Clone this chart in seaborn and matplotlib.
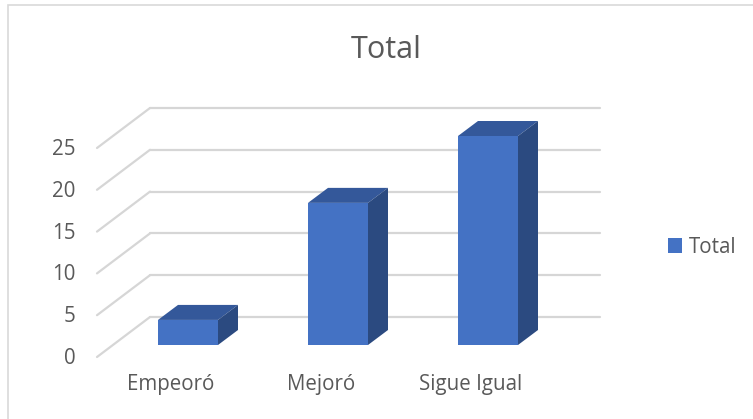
import matplotlib
matplotlib.use("Agg")
import matplotlib.pyplot as plt
import matplotlib.transforms as mtransforms
from matplotlib.patches import Patch, Polygon, Rectangle
import seaborn as sns

# data
categorias = ["Empeoró", "Mejoró", "Sigue Igual"]
valores = [3, 17, 25]
ticks_y = [0, 5, 10, 15, 20, 25]
serie = "Total"

azul = "#4472C4"
azul_top = "#34589A"
azul_lado = "#2B4A80"
gris_txt = "#595959"
gris_grid = "#d6d6d6"

sns.set_style("white")
plt.rcParams["font.family"] = ["Open Sans", "DejaVu Sans"]

fig = plt.figure(figsize=(7.53, 4.19), dpi=100)
# axes = plane of the bars' front faces
ax = fig.add_axes([113 / 753, 1 - 345 / 419, 450 / 753, 209 / 419])

sns.barplot(x=categorias, y=valores, color=azul, saturation=1, width=0.4,
            edgecolor="none", ax=ax, zorder=1)
ax.set_xlim(-0.5, 2.5)
ax.set_ylim(0, 25)

# pixel -> data units for the oblique 3d look
px_x = 150.0
px_y = 209.0 / 25
prof_dx, prof_dy = 20 / px_x, 15 / px_y        # bar depth
fondo_dx, fondo_dy = 37 / px_x, 28 / px_y      # back wall
frente_dx, frente_dy = -16 / px_x, -12 / px_y  # front edge of floor

# back wall gridlines + floor diagonals
for v in ticks_y:
    ax.plot([-0.5 + fondo_dx, 2.5 + fondo_dx], [v + fondo_dy] * 2,
            color=gris_grid, lw=1.6, zorder=0.5, clip_on=False)
    ax.plot([-0.5 + frente_dx, -0.5 + fondo_dx], [v + frente_dy, v + fondo_dy],
            color=gris_grid, lw=1.6, zorder=0.5, clip_on=False)

# top and side faces from the seaborn bars
for p in list(ax.patches):
    x0, y0 = p.get_x(), p.get_y()
    w, h = p.get_width(), p.get_height()
    x1, y1 = x0 + w, y0 + h
    top = [(x0, y1), (x1, y1), (x1 + prof_dx, y1 + prof_dy), (x0 + prof_dx, y1 + prof_dy)]
    lado = [(x1, y0), (x1 + prof_dx, y0 + prof_dy), (x1 + prof_dx, y1 + prof_dy), (x1, y1)]
    ax.add_patch(Polygon(top, closed=True, facecolor=azul_top, edgecolor="none",
                         zorder=2, clip_on=False))
    ax.add_patch(Polygon(lado, closed=True, facecolor=azul_lado, edgecolor="none",
                         zorder=2, clip_on=False))

sns.despine(ax=ax, left=True, bottom=True)
ax.set_xlabel("")
ax.set_ylabel("")
ax.set_yticks(ticks_y)
ax.set_yticklabels([str(t) for t in ticks_y])
ax.tick_params(axis="both", length=0, labelsize=14.8, labelcolor=gris_txt)
ax.tick_params(axis="y", pad=27)
ax.tick_params(axis="x", pad=21)
ax.grid(False)

off_y = mtransforms.ScaledTranslation(0, -0.11, fig.dpi_scale_trans)
for lab in ax.get_yticklabels():
    lab.set_transform(lab.get_transform() + off_y)
off_x = mtransforms.ScaledTranslation(-0.17, 0, fig.dpi_scale_trans)
for lab in ax.get_xticklabels():
    lab.set_transform(lab.get_transform() + off_x)

fig.text(386 / 753, 1 - 50 / 419, "Total", ha="center", va="center",
         fontsize=22, color=gris_txt)

fig.legend(handles=[Patch(facecolor=azul, edgecolor="none")], labels=[serie],
           loc="center left", bbox_to_anchor=(668 / 753, 1 - 247 / 419),
           frameon=False, fontsize=14.8, labelcolor=gris_txt,
           handlelength=0.7, handleheight=0.7, handletextpad=0.3,
           borderpad=0, borderaxespad=0)

# chart area border
fig.patches.append(Rectangle((8 / 753, -0.05), 1.1, 1 - 5 / 419 + 0.05,
                             transform=fig.transFigure, fill=False,
                             edgecolor="#d9d9d9", lw=1.2))

fig.savefig("out.png", dpi=100)
